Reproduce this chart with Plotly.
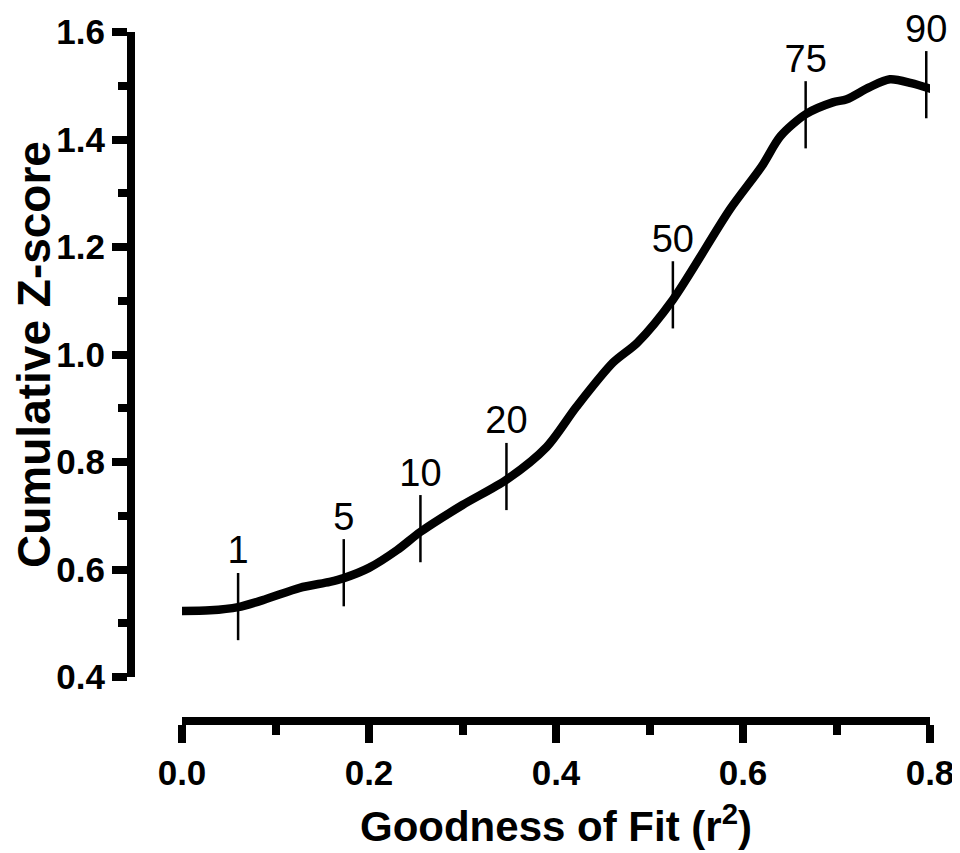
import plotly.graph_objects as go

# Curve data (Goodness of fit r^2 vs cumulative Z-score)
curve_x = [0.0, 0.03, 0.06, 0.09, 0.126, 0.158, 0.173, 0.20, 0.23, 0.255, 0.30, 0.347,
           0.39, 0.422, 0.461, 0.487, 0.525, 0.586, 0.62, 0.64, 0.667, 0.696, 0.711,
           0.735, 0.757, 0.78, 0.803]
curve_y = [0.523, 0.524, 0.530, 0.545, 0.566, 0.577, 0.584, 0.603, 0.636, 0.670, 0.720,
           0.767, 0.828, 0.903, 0.985, 1.022, 1.102, 1.270, 1.350, 1.406, 1.447, 1.469,
           1.475, 1.497, 1.512, 1.505, 1.493]

# Percentile markers
marker_labels = ["1", "5", "10", "20", "50", "75", "90"]
marker_x = [0.060, 0.173, 0.255, 0.347, 0.525, 0.667, 0.796]
marker_y = [0.531, 0.594, 0.676, 0.773, 1.111, 1.446, 1.502]
marker_half = 0.0625

x_ticks = [0.0, 0.2, 0.4, 0.6, 0.8]
x_ticklabels = ["0.0", "0.2", "0.4", "0.6", "0.8"]
y_ticks = [0.4, 0.6, 0.8, 1.0, 1.2, 1.4, 1.6]
y_ticklabels = ["0.4", "0.6", "0.8", "1.0", "1.2", "1.4", "1.6"]

FONT = "Liberation Sans, Arial, Helvetica, sans-serif"

fig = go.Figure()

# vertical marker lines
mx, my = [], []
for x, y in zip(marker_x, marker_y):
    mx += [x, x, None]
    my += [y - marker_half, y + marker_half, None]
fig.add_trace(go.Scatter(x=mx, y=my, mode="lines",
                         line=dict(color="black", width=2.5),
                         hoverinfo="skip", showlegend=False, cliponaxis=False))

fig.add_trace(go.Scatter(x=curve_x, y=curve_y, mode="lines",
                         line=dict(color="black", width=8.5, shape="spline", smoothing=0.8),
                         showlegend=False, cliponaxis=False))

# marker labels
fig.add_trace(go.Scatter(x=marker_x, y=[y + marker_half for y in marker_y],
                         mode="text", text=marker_labels, textposition="top center",
                         textfont=dict(family=FONT, size=38, color="black"),
                         hoverinfo="skip", showlegend=False, cliponaxis=False))

W, H = 960, 853
ml, mr, mt, mb = 123, 38, 24, 140
pw = W - ml - mr
ph = H - mt - mb
x0_px, y04_px = 174, 669

fig.update_layout(
    width=W, height=H,
    margin=dict(l=ml, r=mr, t=mt, b=mb, autoexpand=False),
    paper_bgcolor="white", plot_bgcolor="white",
    showlegend=False,
    xaxis=dict(
        domain=[(x0_px - ml) / pw, 1], range=[0, 0.8],
        anchor="free", position=0, automargin=False,
        showgrid=False, zeroline=False,
        showline=True, linecolor="black", linewidth=8,
        ticks="outside", ticklen=18, tickwidth=8, tickcolor="black",
        tickvals=x_ticks, ticktext=x_ticklabels,
        tickfont=dict(family=FONT, size=35, color="black", weight="bold"),
        minor=dict(ticks="outside", ticklen=10, tickwidth=8, tickcolor="black", dtick=0.1, tick0=0),
        title=dict(text="Goodness of Fit (r<sup>2</sup>)", standoff=20,
                   font=dict(family=FONT, size=42, color="black", weight="bold")),
    ),
    yaxis=dict(
        domain=[(H - mb - y04_px) / ph, 1],
        range=[0.4, 1.6],
        anchor="free", position=0, automargin=False,
        showgrid=False, zeroline=False,
        showline=True, linecolor="black", linewidth=8,
        ticks="outside", ticklen=15, tickwidth=8, tickcolor="black",
        tickvals=y_ticks, ticktext=y_ticklabels,
        tickfont=dict(family=FONT, size=35, color="black", weight="bold"),
        minor=dict(ticks="outside", ticklen=9, tickwidth=8, tickcolor="black", dtick=0.1, tick0=0.4),
        title=dict(text="Cumulative Z-score", standoff=15,
                   font=dict(family=FONT, size=46, color="black", weight="bold")),
    ),
)

fig.write_html("out.html")
